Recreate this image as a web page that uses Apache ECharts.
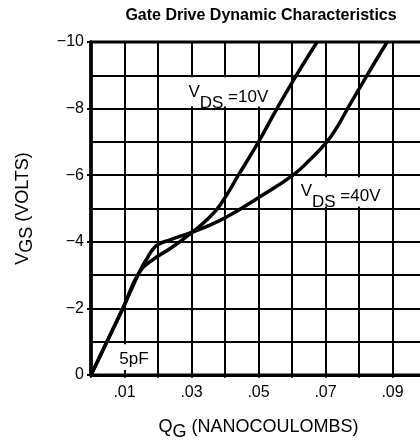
<!DOCTYPE html>
<html>
<head>
<meta charset="UTF-8">
<title>Gate Drive Dynamic Characteristics</title>
<script src="https://cdn.jsdelivr.net/npm/echarts@6/dist/echarts.min.js"></script>
<style>
  html, body { margin: 0; padding: 0; background: #fff; }
</style>
</head>
<body>
<div id="chart" style="width:420px;height:443px;"></div>
<script type="text/javascript">
    // QG (nC) and VGS (V)
    var qg10  = [0, 0.0095, 0.0145, 0.019, 0.024, 0.0298, 0.035, 0.0385, 0.044, 0.05, 0.0555, 0.0613, 0.0675];
    var vgs10 = [0, -2, -3.1, -3.5, -3.82, -4.25, -4.7, -5.1, -6.0, -7.0, -8.0, -9.0, -10];
    var qg40  = [0, 0.0095, 0.0145, 0.017, 0.0185, 0.02, 0.0236, 0.0296, 0.0355, 0.0406, 0.0504, 0.0603, 0.0655, 0.0704, 0.0735, 0.0763, 0.0824, 0.0884];
    var vgs40 = [0, -2, -3.1, -3.55, -3.78, -3.92, -4.06, -4.27, -4.5, -4.75, -5.35, -6.0, -6.48, -7.0, -7.45, -7.95, -9.0, -10];

    // note labels: [x, y, text] and the white patches behind them [x1, y1, x2, y2]
    var notes = [
        [0.041, -8.33, '{v|V}{s|DS}{t| =10V}'],
        [0.0745, -5.36, '{v|V}{s|DS}{t| =40V}'],
        [0.0128, -0.47, '{t|5pF}']
    ];
    var patches = [
        [0.0275, -8.94, 0.0545, -8.06],
        [0.0605, -5.94, 0.0885, -5.06],
        [0.0075, -0.92, 0.0185, -0.15]
    ];

    var font = 'Liberation Sans, Arial, Helvetica, sans-serif';

    function pairs(xs, ys) {
        var out = [];
        for (var i = 0; i < xs.length; i++) {
            out.push([xs[i], ys[i]]);
        }
        return out;
    }

    var chart = echarts.init(document.getElementById('chart'));

    var option = {
        animation: false,
        title: {
            text: 'Gate Drive Dynamic Characteristics',
            left: 256,
            top: 3,
            textAlign: 'center',
            textStyle: { fontFamily: font, fontSize: 16, fontWeight: 'bold', color: '#000' }
        },
        grid: {
            left: 91, top: 42, width: 335, height: 333,
            containLabel: false, outerBoundsMode: 'none',
            show: true, borderColor: '#000', borderWidth: 3
        },
        xAxis: {
            type: 'value', min: 0, max: 0.1, interval: 0.01,
            name: '{q|Q}{g|G}{q| (NANOCOULOMBS)}',
            nameLocation: 'middle', nameGap: 38,
            nameTextStyle: {
                rich: {
                    q: { fontFamily: font, fontSize: 18, color: '#000' },
                    g: { fontFamily: font, fontSize: 18, color: '#000', padding: [10, 0, 0, 0] }
                }
            },
            axisLine: { lineStyle: { color: '#000', width: 3 } },
            axisTick: { show: true, length: 3, lineStyle: { color: '#000', width: 1.5 } },
            splitLine: { show: true, lineStyle: { color: '#000', width: 2 } },
            axisLabel: {
                margin: 10, fontFamily: font, fontSize: 16, color: '#000',
                formatter: function (v) {
                    var n = Math.round(v * 100);
                    return (n % 2 === 1) ? '.0' + n : '';
                }
            }
        },
        yAxis: {
            type: 'value', min: -10, max: 0, interval: 2, inverse: true,
            name: '{q|V}{g|GS}{q| (VOLTS)}',
            nameLocation: 'middle', nameGap: 55,
            nameTextStyle: {
                rich: {
                    q: { fontFamily: font, fontSize: 18, color: '#000' },
                    g: { fontFamily: font, fontSize: 18, color: '#000', padding: [8, 0, 0, 0] }
                }
            },
            axisLine: { show: true, lineStyle: { color: '#000', width: 3.5 } },
            axisTick: { show: true, length: 4, lineStyle: { color: '#000', width: 2 } },
            splitLine: { show: true, lineStyle: { color: '#000', width: 2 } },
            minorTick: { show: false, splitNumber: 2 },
            minorSplitLine: { show: true, lineStyle: { color: '#000', width: 2 } },
            axisLabel: {
                margin: 7, fontFamily: font, fontSize: 16, color: '#000',
                formatter: function (v) {
                    var n = Math.round(v);
                    return n === 0 ? '0' : '\u2212' + Math.abs(n);
                }
            }
        },
        series: [
            {
                // white patches and note texts, kept under the curves
                type: 'line', z: 1, data: [], silent: true,
                markArea: {
                    silent: true,
                    itemStyle: { color: '#fff', opacity: 1 },
                    data: patches.map(function (p) {
                        return [{ coord: [p[0], p[1]] }, { coord: [p[2], p[3]] }];
                    })
                },
                markPoint: {
                    silent: true, symbol: 'circle', symbolSize: 1,
                    itemStyle: { color: 'rgba(0,0,0,0)' },
                    label: {
                        show: true, position: 'inside',
                        rich: {
                            v: { fontFamily: font, fontSize: 17, color: '#000', padding: [0, 0, 10, 0] },
                            s: { fontFamily: font, fontSize: 17, color: '#000', padding: [12, 0, 0, 0] },
                            t: { fontFamily: font, fontSize: 17, color: '#000' }
                        }
                    },
                    data: notes.map(function (n) {
                        return { coord: [n[0], n[1]], label: { formatter: n[2] } };
                    })
                }
            },
            {
                name: 'VDS=10V', type: 'line', z: 3,
                data: pairs(qg10, vgs10),
                showSymbol: false, smooth: 0.45,
                lineStyle: { color: '#000', width: 3.5 }
            },
            {
                name: 'VDS=40V', type: 'line', z: 3,
                data: pairs(qg40, vgs40),
                showSymbol: false, smooth: 0.45,
                lineStyle: { color: '#000', width: 3.5 }
            }
        ]
    };
    chart.setOption(option);
</script>
</body>
</html>
